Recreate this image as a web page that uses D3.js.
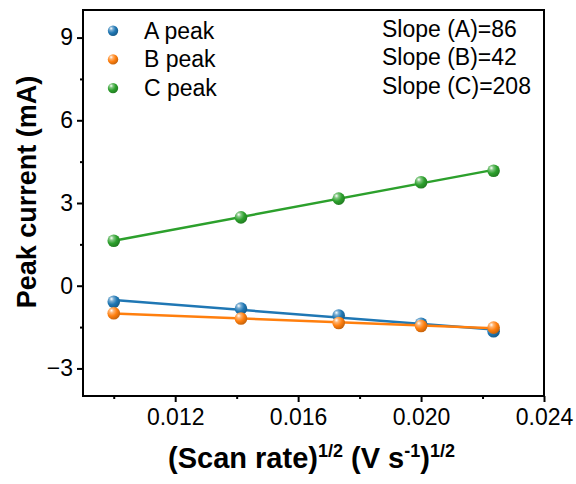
<!DOCTYPE html>
<html><head><meta charset="utf-8">
<script src="https://cdn.jsdelivr.net/npm/d3@7"></script>
<style>
html,body{margin:0;padding:0;background:#fff;}
svg{display:block;font-family:"Liberation Sans",Arial,sans-serif;}
</style></head>
<body><svg id="c" width="576" height="484"></svg>
<script>
const scanRate = [0.01, 0.01414, 0.01732, 0.02, 0.02236];
const peakA = [-0.58, -0.83, -1.08, -1.38, -1.65];
const peakB = [-1.00, -1.19, -1.35, -1.46, -1.52];
const peakC = [1.63, 2.48, 3.16, 3.75, 4.17];
const seriesNames = ["A peak", "B peak", "C peak"];
const slopeLabels = ["Slope (A)=86", "Slope (B)=42", "Slope (C)=208"];
const xTicks = [0.012, 0.016, 0.020, 0.024];
const xMinor = [0.010, 0.014, 0.018, 0.022];
const yTicks = [-3, 0, 3, 6, 9];
const yMinor = [-1.5, 1.5, 4.5, 7.5];
const colors = ["#1f77b4", "#ff7f0e", "#2ca02c"];

const svg = d3.select("#c");
const m = {l:83, r:544, t:10, b:396};
const x = d3.scaleLinear().domain([0.009, 0.024]).range([m.l, m.r]);
const y = d3.scaleLinear().domain([-4, 10]).range([m.b, m.t]);

const defs = svg.append("defs");
colors.forEach((c,i)=>{
  const g = defs.append("radialGradient").attr("id","g"+i)
    .attr("cx","35%").attr("cy","32%").attr("r","70%").attr("fx","32%").attr("fy","28%");
  g.append("stop").attr("offset","0%").attr("stop-color","#ffffff");
  g.append("stop").attr("offset","25%").attr("stop-color",d3.interpolateRgb("#ffffff",c)(0.6));
  g.append("stop").attr("offset","60%").attr("stop-color",c);
  g.append("stop").attr("offset","100%").attr("stop-color",d3.color(c).darker(0.7));
});

// axes
const xAxis = d3.axisBottom(x).tickValues(xTicks).tickSize(6).tickPadding(7).tickFormat(d3.format(".3f"));
const yAxis = d3.axisLeft(y).tickValues(yTicks).tickSize(6).tickPadding(4).tickFormat(d=>d<0?"\u2212"+Math.abs(d):d);
const gx = svg.append("g").attr("transform",`translate(0,${m.b})`).call(xAxis);
const gy = svg.append("g").attr("transform",`translate(${m.l},0)`).call(yAxis);
const gxm = svg.append("g").attr("transform",`translate(0,${m.b})`).call(d3.axisBottom(x).tickValues(xMinor).tickSize(3).tickFormat(""));
const gym = svg.append("g").attr("transform",`translate(${m.l},0)`).call(d3.axisLeft(y).tickValues(yMinor).tickSize(3).tickFormat(""));
[gx,gy,gxm,gym].forEach(g=>{
  g.select(".domain").remove();
  g.selectAll("line").attr("stroke","#000").attr("stroke-width",2);
  g.selectAll("text").attr("font-size",23).attr("fill","#000").attr("font-family","Liberation Sans, Arial, sans-serif");
});
svg.append("rect").attr("x",m.l).attr("y",m.t).attr("width",m.r-m.l).attr("height",m.b-m.t)
  .attr("fill","none").attr("stroke","#000").attr("stroke-width",2);

// titles
const xt = svg.append("text").attr("x",(m.l+m.r)/2 - 2).attr("y",468).attr("text-anchor","middle")
  .attr("font-size",29).attr("font-weight","bold");
xt.append("tspan").text("(Scan rate)");
xt.append("tspan").text("1/2").attr("font-size",18).attr("dy",-11);
xt.append("tspan").text(" (V s").attr("font-size",29).attr("dy",11);
xt.append("tspan").text("-1").attr("font-size",18).attr("dy",-11);
xt.append("tspan").text(")").attr("font-size",29).attr("dy",11);
xt.append("tspan").text("1/2").attr("font-size",18).attr("dy",-11);

svg.append("text").attr("transform",`translate(36,192) rotate(-90)`)
  .attr("text-anchor","middle").attr("font-size",27).attr("font-weight","bold").text("Peak current (mA)");

// data
const series = [peakA, peakB, peakC];
const plot = svg.append("g");
series.forEach((vals,i)=>{
  const pts = scanRate.map((s,j)=>[s, vals[j]]);
  const mx = d3.mean(scanRate), my = d3.mean(vals);
  const sl = d3.sum(pts,p=>(p[0]-mx)*(p[1]-my))/d3.sum(pts,p=>(p[0]-mx)**2);
  const ic = my - sl*mx;
  const x0 = d3.min(scanRate), x1 = d3.max(scanRate);
  plot.append("line").attr("x1",x(x0)).attr("y1",y(ic+sl*x0)).attr("x2",x(x1)).attr("y2",y(ic+sl*x1))
    .attr("stroke",colors[i]).attr("stroke-width",2.5);
});
series.forEach((vals,i)=>{
  plot.selectAll(null).data(scanRate.map((s,j)=>[s,vals[j]])).enter().append("circle")
    .attr("cx",d=>x(d[0])).attr("cy",d=>y(d[1])).attr("r",6.3).attr("fill",`url(#g${i})`);
});

// legend
seriesNames.forEach((n,i)=>{
  const yy = 30.7 + i*28.7;
  svg.append("circle").attr("cx",113).attr("cy",yy).attr("r",5.2).attr("fill",`url(#g${i})`);
  svg.append("text").attr("x",144).attr("y",yy+8).attr("font-size",23).text(n);
});
slopeLabels.forEach((t,i)=>{
  svg.append("text").attr("x",382).attr("y",36.5+i*28.7).attr("font-size",23).text(t);
});
</script></body></html>
